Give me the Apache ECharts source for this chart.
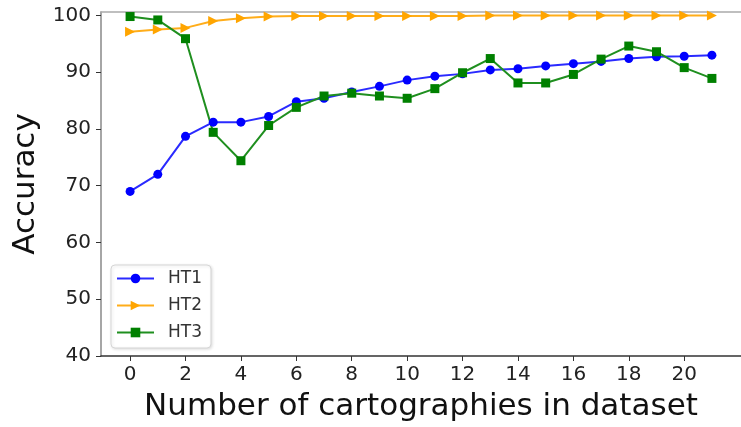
<!DOCTYPE html>
<html>
<head>
<meta charset="utf-8">
<script src="https://cdn.jsdelivr.net/npm/echarts@6/dist/echarts.min.js"></script>
<style>
  html, body { margin: 0; padding: 0; background: #fff; }
  #chart { width: 741px; height: 427px; }
</style>
</head>
<body>
<div id="chart"></div>
<script>
// Number of cartographies in the dataset (x positions)
const cartographies = [0, 1, 2, 3, 4, 5, 6, 7, 8, 9, 10, 11, 12, 13, 14, 15, 16, 17, 18, 19, 20, 21];

// Accuracy per configuration
const ht1 = [69.0, 72.0, 78.7, 81.2, 81.2, 82.2, 84.8, 85.4, 86.5, 87.5, 88.6, 89.3, 89.7, 90.4, 90.6, 91.1, 91.5, 91.9, 92.4, 92.7, 92.8, 93.0];
const ht2 = [97.1, 97.5, 97.8, 99.0, 99.5, 99.8, 99.9, 99.9, 99.9, 99.9, 99.9, 99.9, 99.9, 100, 100, 100, 100, 100, 100, 100, 100, 100];
const ht3 = [99.8, 99.2, 95.9, 79.4, 74.4, 80.6, 83.8, 85.8, 86.3, 85.8, 85.4, 87.1, 89.9, 92.4, 88.1, 88.1, 89.6, 92.3, 94.6, 93.6, 90.8, 88.9];

// Tick values
const xTicks = [0, 2, 4, 6, 8, 10, 12, 14, 16, 18, 20];
const yTicks = [40, 50, 60, 70, 80, 90, 100];

const pairs = ys => cartographies.map((x, i) => [x, ys[i]]);

const chart = echarts.init(document.getElementById('chart'), null, { renderer: 'canvas' });

const tickFont = { fontFamily: 'DejaVu Sans', fontSize: 20, color: '#222' };

chart.setOption({
  animation: false,
  backgroundColor: '#fff',
  grid: { left: 101, right: -6, top: 12, bottom: 69, containLabel: false },
  legend: {
    orient: 'vertical',
    left: 111,
    top: 265,
    padding: [5, 9, 7, 5],
    itemWidth: 37,
    itemHeight: 12,
    itemGap: 10,
    backgroundColor: '#fff',
    borderColor: '#d6d6d6',
    borderWidth: 1,
    borderRadius: 4,
    shadowColor: 'rgba(0,0,0,0.12)',
    shadowBlur: 3,
    shadowOffsetX: 1,
    shadowOffsetY: 1,
    textStyle: { fontFamily: 'DejaVu Sans', fontSize: 17, lineHeight: 17, color: '#333', padding: [0, 0, 0, 9] },
    data: ['HT1', 'HT2', 'HT3']
  },
  xAxis: [{
    type: 'value',
    min: -1.05,
    max: 22.05,
    name: 'Number of cartographies in dataset',
    nameLocation: 'middle',
    nameGap: 35,
    nameTextStyle: { fontFamily: 'DejaVu Sans', fontSize: 31, color: '#111' },
    axisLine: { onZero: false, lineStyle: { color: '#333', width: 1.5 } },
    axisTick: { show: true, length: 5, lineStyle: { color: '#333' }, customValues: xTicks },
    axisLabel: Object.assign({ margin: 9, customValues: xTicks }, tickFont),
    splitLine: { show: false }
  }, {
    type: 'value',
    position: 'top',
    min: -1.05,
    max: 22.05,
    axisLine: { show: true, onZero: false, lineStyle: { color: '#aaa', width: 1.5 } },
    axisTick: { show: false },
    axisLabel: { show: false },
    splitLine: { show: false }
  }],
  yAxis: {
    type: 'value',
    min: 40,
    max: 100.6,
    name: 'Accuracy',
    nameLocation: 'middle',
    nameGap: 59,
    nameTextStyle: { fontFamily: 'DejaVu Sans', fontSize: 31, color: '#111' },
    axisLine: { show: true, onZero: false, lineStyle: { color: '#888', width: 1.5 } },
    axisTick: { show: true, length: 5, lineStyle: { color: '#333' }, customValues: yTicks },
    axisLabel: Object.assign({ margin: 10, customValues: yTicks }, tickFont),
    splitLine: { show: false }
  },
  series: [{
    name: 'HT1',
    type: 'line',
    data: pairs(ht1),
    symbol: 'circle',
    symbolSize: 9,
    itemStyle: { color: '#0000ff' },
    lineStyle: { color: '#2a2aff', width: 2 }
  }, {
    name: 'HT2',
    type: 'line',
    data: pairs(ht2),
    symbol: 'triangle',
    symbolRotate: -90,
    symbolSize: 10,
    itemStyle: { color: '#ffa500' },
    lineStyle: { color: '#ffad1a', width: 2 }
  }, {
    name: 'HT3',
    type: 'line',
    data: pairs(ht3),
    symbol: 'rect',
    symbolSize: 9,
    itemStyle: { color: '#008000' },
    lineStyle: { color: '#1f8f1f', width: 2 }
  }]
});
</script>
</body>
</html>
